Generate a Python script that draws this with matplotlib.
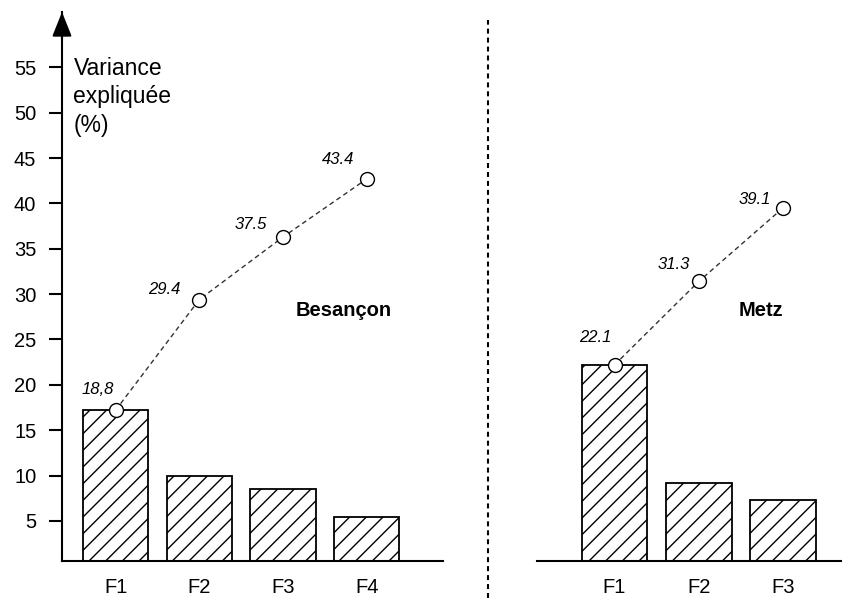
import matplotlib.pyplot as plt
from matplotlib.lines import Line2D

plt.rcParams['font.family'] = ['Liberation Sans', 'DejaVu Sans']
plt.rcParams['hatch.linewidth'] = 1.0

# Besançon
bes_factors = ['F1', 'F2', 'F3', 'F4']
bes_bars = [17.2, 10.0, 8.55, 5.4]
bes_line = [17.2, 29.4, 36.3, 42.7]
bes_labels = ['18,8', '29.4', '37.5', '43.4']

# Metz
metz_factors = ['F1', 'F2', 'F3']
metz_bars = [22.2, 9.2, 7.3]
metz_line = [22.2, 31.4, 39.5]
metz_labels = ['22.1', '31.3', '39.1']

y_ticks = [5, 10, 15, 20, 25, 30, 35, 40, 45, 50, 55]

# label offsets in points (dx, dy) relative to each circle
bes_offsets = [(-13, 15), (-25, 7), (-23, 9), (-21, 14)]
metz_offsets = [(-14, 20), (-18, 12), (-20, 6)]

YLIM = (0.58, 61.1)


def panel(ax, factors, bars, line, labels, offsets, city, city_xy):
    x = range(len(factors))
    ax.bar(x, bars, width=0.78, color='white', edgecolor='black',
           linewidth=1.3, hatch='//', zorder=2)
    ax.plot(x, line, color='#333333', lw=1.0, ls=(0, (3.5, 2.5)),
            marker='o', markersize=10, markerfacecolor='white',
            markeredgecolor='black', markeredgewidth=1.0, zorder=3)
    for xi, yi, lab, off in zip(x, line, labels, offsets):
        ax.annotate(lab, (xi, yi), xytext=off, textcoords='offset points',
                    ha='center', va='center', fontsize=12, style='italic')
    ax.text(city_xy[0], city_xy[1], city, ha='center', va='center',
            fontsize=14.5, fontweight='bold')
    ax.set_ylim(*YLIM)
    ax.set_xticks(list(x))
    ax.set_xticklabels(factors, fontsize=14.5)
    ax.tick_params(axis='x', length=0, pad=12)
    for s in ['top', 'right']:
        ax.spines[s].set_visible(False)
    ax.spines['bottom'].set_linewidth(1.5)
    ax.patch.set_alpha(0)


fig = plt.figure(figsize=(8.42, 5.98), dpi=100)

ax1 = fig.add_axes([62 / 842, 37 / 598, 381 / 842, 549 / 598])
panel(ax1, bes_factors, bes_bars, bes_line, bes_labels, bes_offsets,
      'Besançon', (2.72, 28.2))
ax1.set_xlim(-0.64, 3.91)
ax1.set_yticks(y_ticks)
ax1.set_yticklabels([str(t) for t in y_ticks], fontsize=14.5)
ax1.tick_params(axis='y', length=9.5, width=1.5, pad=9)
ax1.spines['left'].set_linewidth(1.5)
ax1.annotate('', xy=(0, 1.0), xytext=(0, 0.95), xycoords='axes fraction',
             arrowprops=dict(arrowstyle='-|>,head_length=1.5,head_width=0.6',
                             color='black', lw=1.5, shrinkA=0, shrinkB=0))
ax1.text(0.03, 0.918, 'Variance\nexpliquée\n(%)', transform=ax1.transAxes,
         ha='left', va='top', fontsize=16.5, linespacing=1.3)

ax2 = fig.add_axes([537 / 842, 37 / 598, 305 / 842, 549 / 598])
panel(ax2, metz_factors, metz_bars, metz_line, metz_labels, metz_offsets,
      'Metz', (1.74, 28.2))
ax2.set_xlim(-0.92, 2.70)
ax2.spines['left'].set_visible(False)
ax2.set_yticks([])

# dotted separator between the two cities
fig.add_artist(Line2D([487.7 / 842, 487.7 / 842], [0, 1 - 20 / 598],
                      transform=fig.transFigure, color='black', lw=1.5,
                      ls=(0, (2.4, 1.9))))

fig.savefig('out.png', dpi=100)
